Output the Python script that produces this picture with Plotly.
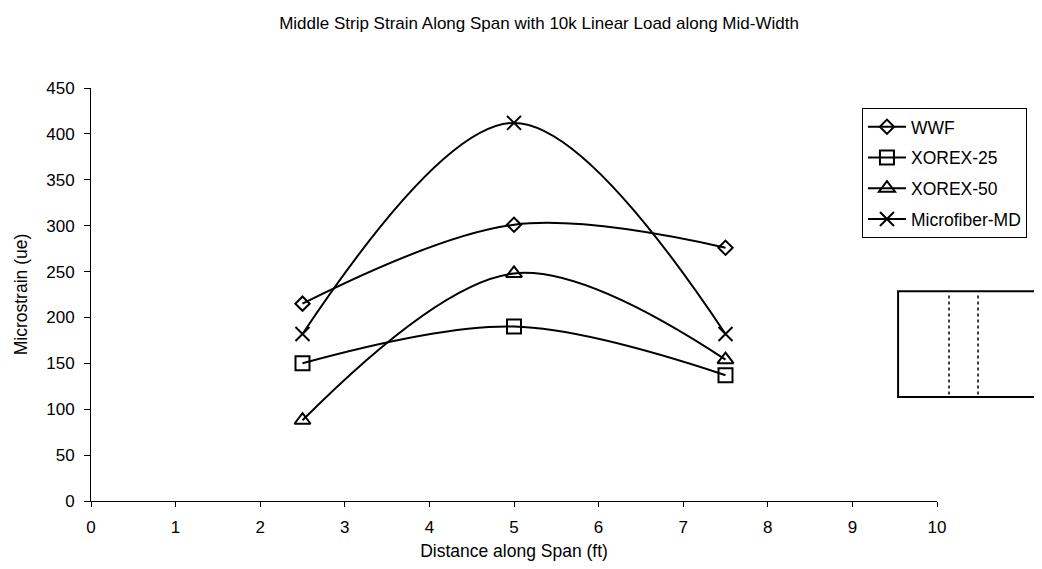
import plotly.graph_objects as go

# Data
distance = [2.5, 5, 7.5]
series_names = ["WWF", "XOREX-25", "XOREX-50", "Microfiber-MD"]
wwf = [215, 301, 276]
xorex25 = [150, 190, 137]
xorex50 = [88, 248, 154]
microfiber = [182, 412, 182]
series_values = [wwf, xorex25, xorex50, microfiber]

# Styles
symbols = ["diamond-open", "square-open", "triangle-up-open", "x-thin-open"]
marker_sizes = [11, 14, 14, 14]

FONT = "Liberation Sans, Arial, sans-serif"

fig = go.Figure()
for name, vals, sym, ms in zip(series_names, series_values, symbols, marker_sizes):
    fig.add_trace(go.Scatter(
        x=distance, y=vals, name=name, mode="lines+markers",
        legendgroup=name,
        line=dict(color="black", width=2, shape="spline", smoothing=1),
        marker=dict(symbol=sym, size=ms, color="black",
                    line=dict(color="black", width=2)),
    ))

fig.update_layout(
    width=1042, height=569,
    margin=dict(l=83, r=113, t=80, b=76, autoexpand=False),
    paper_bgcolor="white", plot_bgcolor="white",
    font=dict(family=FONT, size=17, color="black"),
    title=dict(text="Middle Strip Strain Along Span with 10k Linear Load along Mid-Width",
               x=0.5096, xref="container", xanchor="center",
               y=0.9736, yref="container", yanchor="middle",
               font=dict(size=17, family=FONT, color="black")),
    legend=dict(x=0.9113, y=0.952, xanchor="left", yanchor="top",
                bordercolor="black", borderwidth=1, bgcolor="white",
                font=dict(size=17.5, family=FONT, color="black"),
                tracegroupgap=5, traceorder="grouped", itemwidth=38),
    showlegend=True,
)

fig.update_xaxes(range=[0, 10], dtick=1, showgrid=False, zeroline=False,
                 showline=True, linecolor="black", linewidth=1,
                 ticks="outside", ticklen=5, tickcolor="black",
                 tickfont=dict(size=17, family=FONT), ticklabelstandoff=6,
                 title=dict(text="Distance along Span (ft)", standoff=8,
                            font=dict(size=17.5, family=FONT)))
fig.update_yaxes(range=[0, 450], dtick=50, showgrid=False, zeroline=False,
                 showline=True, linecolor="black", linewidth=1,
                 ticks="outside", ticklen=6, tickcolor="black",
                 tickfont=dict(size=17, family=FONT), ticklabelstandoff=6,
                 title=dict(text="Microstrain (ue)", standoff=14,
                            font=dict(size=17.5, family=FONT)))

# Inset diagram: slab outline with dotted strip lines (paper coords)
fig.add_shape(type="rect", xref="paper", yref="paper",
              x0=0.954, x1=1.124, y0=0.252, y1=0.508,
              line=dict(color="black", width=2), fillcolor="rgba(0,0,0,0)")
for xp in (1.0142, 1.0485):
    fig.add_shape(type="line", xref="paper", yref="paper",
                  x0=xp, x1=xp, y0=0.258, y1=0.502,
                  line=dict(color="black", width=1.5, dash="dot"))

fig.write_html("out.html")
